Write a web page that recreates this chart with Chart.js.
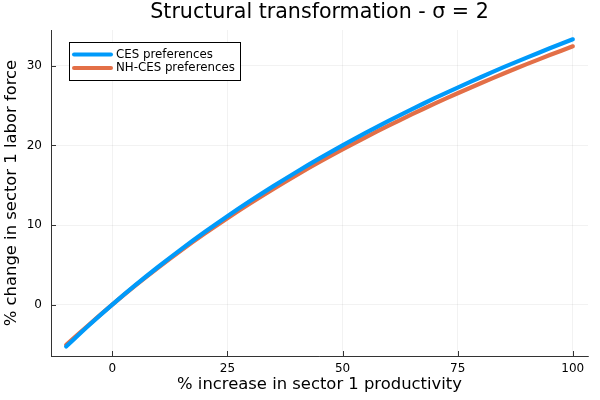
<!DOCTYPE html>
<html>
<head>
<meta charset="utf-8">
<script src="https://cdn.jsdelivr.net/npm/chart.js@4"></script>
<style>
html,body{margin:0;padding:0;background:#fff;}
#wrap{width:600px;height:400px;}
</style>
</head>
<body>
<div id="wrap"><canvas id="c" width="600" height="400"></canvas></div>
<script>
const chartTitle = "Structural transformation - σ = 2";
const xLabel = "% increase in sector 1 productivity";
const yLabel = "% change in sector 1 labor force";
const seriesNames = ["CES preferences", "NH-CES preferences"];
const xValues = [-10,-5,0,5,10,15,20,25,30,35,40,45,50,55,60,65,70,75,80,85,90,95,100];
const cesValues = [-5.26,-2.56,0,2.44,4.76,6.98,9.09,11.11,13.04,14.89,16.67,18.37,20.00,21.57,23.08,24.53,25.93,27.27,28.57,29.83,31.03,32.20,33.33];
const nhcesValues = [-5.06,-2.49,0,2.39,4.66,6.83,8.89,10.86,12.74,14.54,16.27,17.92,19.50,21.02,22.48,23.89,25.25,26.55,27.81,29.04,30.21,31.35,32.45];
const xTicks = [0,25,50,75,100];
const yTicks = [0,10,20,30];
const colors = ["#009AFA", "#E36F47"];
const FONT = "'DejaVu Sans', sans-serif";

function pts(xs, ys){ return xs.map((x,i)=>({x:x, y:ys[i]})); }

const overlay = {
  id:'overlay',
  afterDraw(chart){
    const ctx = chart.ctx, a = chart.chartArea;
    const xs = chart.scales.x, ys = chart.scales.y;
    ctx.save();
    // inward ticks
    ctx.strokeStyle = '#333'; ctx.lineWidth = 1;
    xTicks.forEach(v=>{ const p = Math.round(xs.getPixelForValue(v))+0.5; ctx.beginPath(); ctx.moveTo(p,a.bottom); ctx.lineTo(p,a.bottom-5); ctx.stroke(); });
    yTicks.forEach(v=>{ const p = Math.round(ys.getPixelForValue(v))+0.5; ctx.beginPath(); ctx.moveTo(a.left,p); ctx.lineTo(a.left+5,p); ctx.stroke(); });
    // title
    ctx.fillStyle = '#000'; ctx.font = "20.6px " + FONT; ctx.textAlign='center'; ctx.textBaseline='middle';
    ctx.fillText(chartTitle, (a.left+a.right)/2, 13);
    // legend
    const lx = 69.5, ly = 42.5, lw = 171, lh = 38;
    ctx.fillStyle = '#fff'; ctx.fillRect(lx, ly, lw, lh);
    ctx.strokeStyle = '#000'; ctx.lineWidth = 1; ctx.strokeRect(lx, ly, lw, lh);
    ctx.font = "11.8px " + FONT; ctx.textAlign='left'; ctx.textBaseline='middle';
    seriesNames.forEach((n,i)=>{
      const yy = 54.5 + i*13.5;
      ctx.strokeStyle = colors[i]; ctx.lineWidth = 4; ctx.lineCap='round';
      ctx.beginPath(); ctx.moveTo(74, yy); ctx.lineTo(111, yy); ctx.stroke();
      ctx.fillStyle = '#000'; ctx.fillText(n, 116, yy);
    });
    ctx.restore();
  }
};

new Chart(document.getElementById('c'), {
  type:'scatter',
  data:{
    datasets:[
      {label:seriesNames[0], data:pts(xValues,cesValues), showLine:true, borderColor:colors[0], borderWidth:4.2, pointRadius:0, tension:0.3, borderCapStyle:'round'},
      {label:seriesNames[1], data:pts(xValues,nhcesValues), showLine:true, borderColor:colors[1], borderWidth:4.2, pointRadius:0, tension:0.3, borderCapStyle:'round'}
    ]
  },
  options:{
    responsive:false, animation:false, devicePixelRatio:1,
    layout:{padding:{left:0, right:12, top:30, bottom:0}},
    plugins:{legend:{display:false}, title:{display:false}, tooltip:{enabled:false}},
    scales:{
      x:{
        type:'linear', min:-13.3, max:103.3,
        afterBuildTicks(s){ s.ticks = xTicks.map(v=>({value:v})); },
        afterFit(s){ s.height = 44; },
        grid:{color:'rgba(0,0,0,0.1)', lineWidth:0.5, drawTicks:false},
        border:{color:'#333', width:1},
        ticks:{padding:6, color:'#000', font:{family:FONT, size:12}, maxRotation:0},
        title:{display:true, text:xLabel, color:'#000', font:{family:FONT, size:16.4}, padding:{top:0, bottom:5}}
      },
      y:{
        type:'linear', min:-6.45, max:34.5,
        afterBuildTicks(s){ s.ticks = yTicks.map(v=>({value:v})); },
        afterFit(s){ s.width = 51; },
        grid:{color:'rgba(0,0,0,0.1)', lineWidth:0.5, drawTicks:false},
        border:{color:'#333', width:1},
        ticks:{padding:9, color:'#000', font:{family:FONT, size:12}},
        title:{display:true, text:yLabel, color:'#000', font:{family:FONT, size:16.4}, padding:{top:2, bottom:0}}
      }
    }
  },
  plugins:[overlay]
});
</script>
</body>
</html>
